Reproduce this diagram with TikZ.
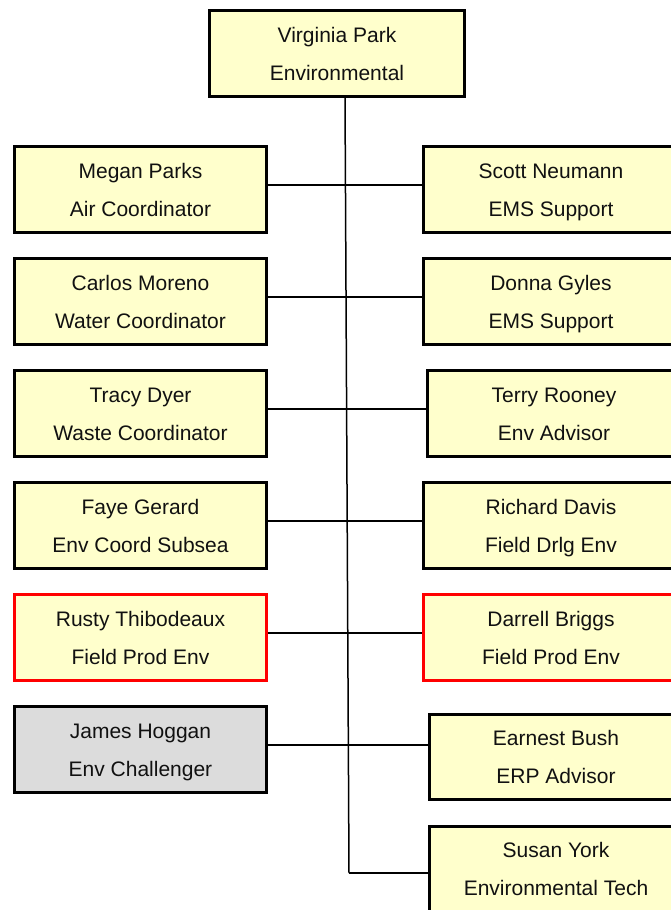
\documentclass[tikz,border=0pt]{standalone}
\usepackage{fontspec}
\setmainfont{Liberation Sans}
\definecolor{boxfill}{HTML}{FFFFCC}
\definecolor{grayfill}{HTML}{DCDCDC}
\definecolor{txtcol}{HTML}{111111}
\begin{document}
\begin{tikzpicture}[x=1pt,y=-1pt,
  pbox/.style={draw=black,line width=3pt,fill=boxfill,inner sep=0pt},
  redbox/.style={pbox,draw=red},
  graybox/.style={pbox,fill=grayfill},
  txt/.style={font=\fontsize{21}{25}\selectfont,text=txtcol,inner sep=0pt,anchor=base},
  link/.style={line width=1.5pt,draw=black}]
\useasboundingbox (0,0) rectangle (670,910);
\newcommand\pbx[8]{%
  \node[#2,minimum width={#5-#3-3},minimum height={#6-#4-3}] (#1) at ({(#3+#5)/2},{(#4+#6)/2}) {};
  \node[txt] (#1-a) at ({(#3+#5)/2},{(#4+#6)/2-11.5}) {#7};
  \node[txt] (#1-b) at ({(#3+#5)/2},{(#4+#6)/2+26.5}) {#8};
}
% trunk
\coordinate (t0) at (345,97);
\coordinate (t1) at (349,873);
\draw[link] (t0) -- (t1);
\pbx{top}{pbox}{208}{9}{466}{98}{Virginia Park}{Environmental}
% left column
\pbx{megan}{pbox}{13}{145}{268}{234}{Megan Parks}{Air Coordinator}
\pbx{carlos}{pbox}{13}{257}{268}{346}{Carlos Moreno}{Water Coordinator}
\pbx{tracy}{pbox}{13}{369}{268}{458}{Tracy Dyer}{Waste Coordinator}
\pbx{faye}{pbox}{13}{481}{268}{570}{Faye Gerard}{Env Coord Subsea}
\pbx{rusty}{redbox}{13}{593}{268}{682}{Rusty Thibodeaux}{Field Prod Env}
\pbx{james}{graybox}{13}{705}{268}{794}{James Hoggan}{Env Challenger}
% right column
\pbx{scott}{pbox}{422}{145}{680}{234}{Scott Neumann}{EMS Support}
\pbx{donna}{pbox}{422}{257}{680}{346}{Donna Gyles}{EMS Support}
\pbx{terry}{pbox}{426}{369}{682}{458}{Terry Rooney}{Env Advisor}
\pbx{richard}{pbox}{422}{481}{680}{570}{Richard Davis}{Field Drlg Env}
\pbx{darrell}{redbox}{422}{593}{680}{682}{Darrell Briggs}{Field Prod Env}
\pbx{earnest}{pbox}{428}{713}{684}{801}{Earnest Bush}{ERP Advisor}
\pbx{susan}{pbox}{428}{825}{684}{913}{Susan York}{Environmental Tech}
% connectors
\draw[link] (megan.east |- 0,185) -- (scott.west |- 0,185);
\draw[link] (carlos.east |- 0,297) -- (donna.west |- 0,297);
\draw[link] (tracy.east |- 0,409) -- (terry.west |- 0,409);
\draw[link] (faye.east |- 0,521) -- (richard.west |- 0,521);
\draw[link] (rusty.east |- 0,633) -- (darrell.west |- 0,633);
\draw[link] (james.east |- 0,745) -- (earnest.west |- 0,745);
\draw[link] (t1) -- (susan.west |- t1);
\end{tikzpicture}
\end{document}
